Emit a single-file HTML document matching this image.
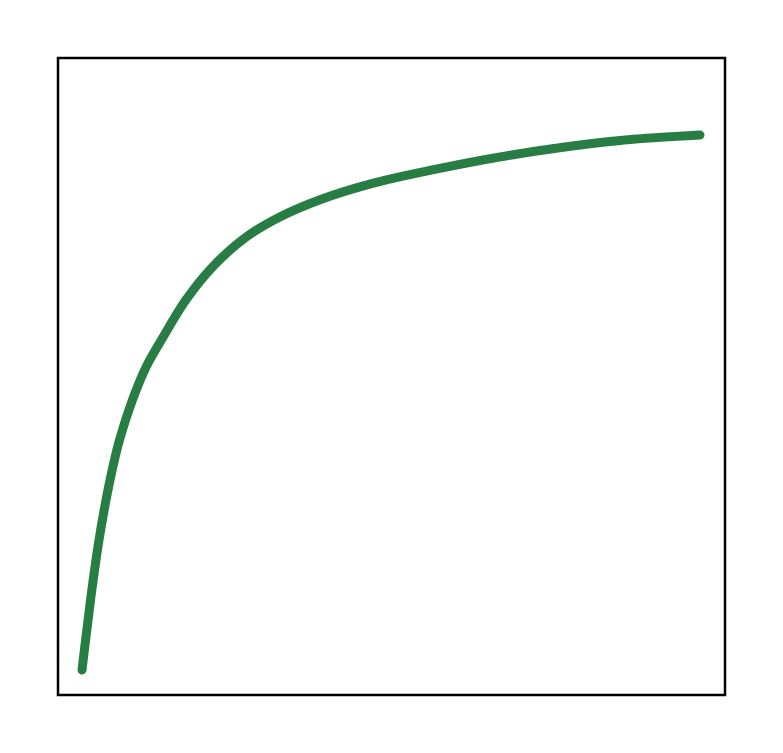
<!DOCTYPE html>
<html>
<head>
<meta charset="utf-8">
<style>
  html, body { margin: 0; padding: 0; background: #fff; }
  svg { display: block; }
</style>
</head>
<body>
<svg id="chart" width="783" height="753" viewBox="0 0 783 753">
  <rect x="58" y="58" width="667" height="637" fill="none" stroke="#000" stroke-width="2.5"/>
  <g id="series"></g>
</svg>
<script>
const xValues = [0, 1.38, 2.75, 4.53, 6.07, 8.17, 10.36, 13.11, 16.83, 21.25, 26.65, 32.04, 38.51, 47.14, 56.80, 67.64, 78.43, 89.16, 100];
const yValues = [0, 13.1, 24.3, 35.5, 43.0, 50.5, 56.6, 62.2, 69.2, 75.5, 81.0, 84.7, 87.9, 91.0, 93.5, 95.9, 97.8, 99.2, 100];

function xScale(v) { return 82 + (v / 100) * 618; }
function yScale(v) { return 670 - (v / 100) * 535; }

// centripetal Catmull-Rom in pixel space
const P = xValues.map((x, i) => [xScale(x), yScale(yValues[i])]);
const n = P.length;
const first = [2*P[0][0] - P[1][0], 2*P[0][1] - P[1][1]];
const last = [2*P[n-1][0] - P[n-2][0], 2*P[n-1][1] - P[n-2][1]];
const Q = [first, ...P, last];
function dist(a, b) { return Math.pow(Math.hypot(a[0]-b[0], a[1]-b[1]), 0.5) || 1e-6; }
let d = `M${P[0][0]},${P[0][1]}`;
for (let i = 1; i < Q.length - 2; i++) {
  const p0 = Q[i-1], p1 = Q[i], p2 = Q[i+1], p3 = Q[i+2];
  const d1 = dist(p0, p1), d2 = dist(p1, p2), d3 = dist(p2, p3);
  const b1 = [0, 1].map(k => (d1*d1*p2[k] - d2*d2*p0[k] + (2*d1*d1 + 3*d1*d2 + d2*d2)*p1[k]) / (3*d1*(d1+d2)));
  const b2 = [0, 1].map(k => (d3*d3*p1[k] - d2*d2*p3[k] + (2*d3*d3 + 3*d3*d2 + d2*d2)*p2[k]) / (3*d3*(d3+d2)));
  d += ` C${b1[0]},${b1[1]} ${b2[0]},${b2[1]} ${p2[0]},${p2[1]}`;
}
const path = document.createElementNS('http://www.w3.org/2000/svg', 'path');
path.setAttribute('d', d);
path.setAttribute('fill', 'none');
path.setAttribute('stroke', '#277d44');
path.setAttribute('stroke-width', '9');
path.setAttribute('stroke-linecap', 'round');
path.setAttribute('stroke-linejoin', 'round');


document.getElementById('series').appendChild(path);
</script>
</body>
</html>
